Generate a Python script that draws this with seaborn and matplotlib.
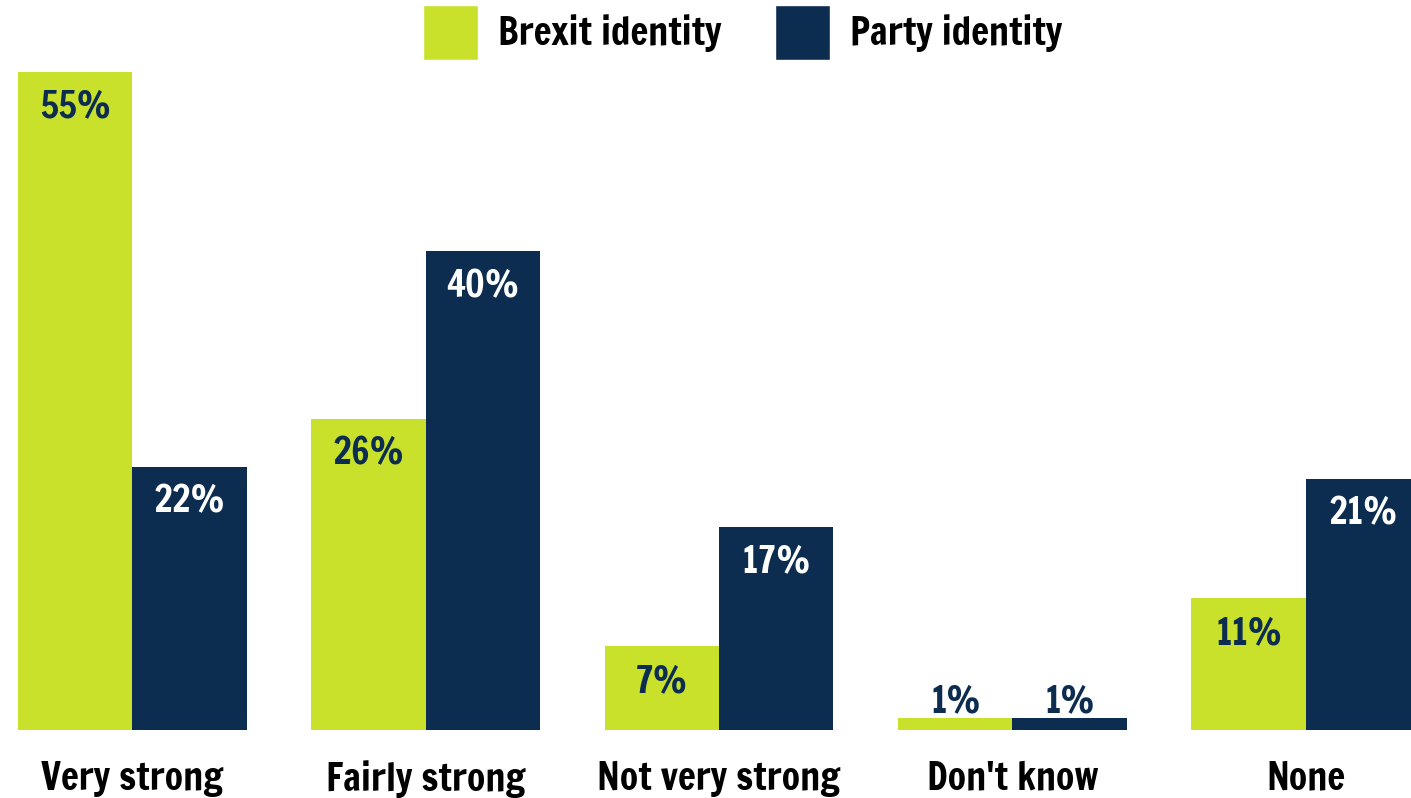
import pandas as pd
import matplotlib.pyplot as plt
import seaborn as sns
from matplotlib import font_manager
from matplotlib.patches import Patch

# ============================================
# DATA
# ============================================

categories = ["Very strong", "Fairly strong", "Not very strong", "Don't know", "None"]
series = ["Brexit identity", "Party identity"]
brexit_vals = [55, 26, 7, 1, 11]
party_vals = [22, 40, 17, 1, 21]

GREEN = "#C9E12A"
NAVY = "#0C2C50"

df = pd.DataFrame({
    "category": categories * 2,
    "series": [series[0]] * len(categories) + [series[1]] * len(categories),
    "value": brexit_vals + party_vals,
})

# ============================================
# FONT (heavy condensed grotesque)
# ============================================

sns.set_style("white")
names = {f.name for f in font_manager.fontManager.ttflist}
fam = "Francois One" if "Francois One" in names else "DejaVu Sans"
plt.rcParams["font.family"] = [fam, "DejaVu Sans"]

# ============================================
# PLOT
# ============================================

fig = plt.figure(figsize=(14.11, 7.98), dpi=100)
ax = fig.add_axes([0, 68 / 798, 1, 730 / 798])

sns.barplot(
    data=df, x="category", y="value", hue="series",
    order=categories, hue_order=series,
    palette=[GREEN, NAVY], saturation=1, width=0.78,
    linewidth=0, legend=False, ax=ax,
)

ax.set_xlim(-0.45, 4.358)
ax.set_ylim(0, 61.0)

# value labels: inside the bar top, or above for tiny bars
for i, cont in enumerate(ax.containers):
    for bar in cont:
        h = bar.get_height()
        x = bar.get_x() + bar.get_width() / 2
        if h < 5:
            ax.annotate(f"{h:.0f}%", (x, h), xytext=(0, 4.3), textcoords="offset points",
                        ha="center", va="baseline", fontsize=26, color=NAVY)
        else:
            ax.annotate(f"{h:.0f}%", (x, h), xytext=(0, -33), textcoords="offset points",
                        ha="center", va="baseline", fontsize=26,
                        color=NAVY if i == 0 else "white")

ax.set_xlabel("")
ax.set_ylabel("")
ax.set_yticks([])
ax.tick_params(axis="x", length=0, pad=22, labelsize=27, labelcolor="black")
sns.despine(ax=ax, left=True, bottom=True)

handles = [Patch(facecolor=GREEN, label=series[0]), Patch(facecolor=NAVY, label=series[1])]
leg = ax.legend(handles=handles, loc="upper center", bbox_to_anchor=(0.5262, 1 - 5 / 730), ncol=2,
                frameon=False, fontsize=27, handlelength=1.47, handleheight=1.88,
                handletextpad=0.53, columnspacing=1.44, borderpad=0, borderaxespad=0,
                labelcolor="black")

fig.savefig("out.png", dpi=100)
